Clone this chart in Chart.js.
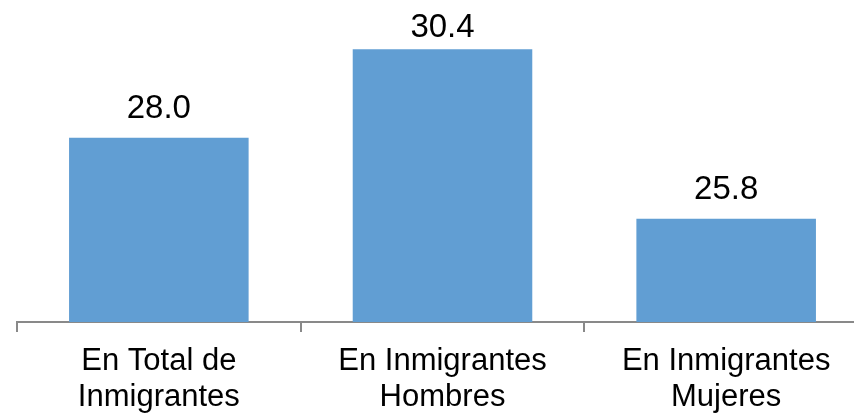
<!DOCTYPE html>
<html>
<head>
<meta charset="utf-8">
<script src="https://cdn.jsdelivr.net/npm/chart.js@4.4.1/dist/chart.umd.min.js"></script>
<style>
  html, body { margin: 0; padding: 0; background: #ffffff; overflow: hidden; width: 854px; height: 415px; }
  #wrap { position: relative; width: 880px; height: 415px; }
</style>
</head>
<body>
<div id="wrap"><canvas id="c"></canvas></div>
<script>
const categories = [
  ['En Total de', 'Inmigrantes'],
  ['En Inmigrantes', 'Hombres'],
  ['En Inmigrantes', 'Mujeres']
];
const values = [28.0, 30.4, 25.8];
const axisMin = 23;
const axisMax = 31;

const valueLabels = {
  id: 'valueLabels',
  afterDatasetsDraw(chart) {
    const ctx = chart.ctx;
    const meta = chart.getDatasetMeta(0);
    ctx.save();
    ctx.font = '33px "Liberation Sans", Arial, sans-serif';
    ctx.fillStyle = '#000000';
    ctx.textAlign = 'center';
    ctx.textBaseline = 'alphabetic';
    meta.data.forEach((bar, i) => {
      const baseline = Math.max(bar.y - 20, chart.chartArea.top + 10);
      ctx.fillText(values[i].toFixed(1), bar.x, baseline);
    });
    ctx.restore();
  }
};

new Chart(document.getElementById('c'), {
  type: 'bar',
  data: {
    labels: categories,
    datasets: [{
      data: values,
      backgroundColor: '#619ED3',
      borderWidth: 0,
      categoryPercentage: 1.0,
      barPercentage: 0.633
    }]
  },
  options: {
    responsive: true,
    maintainAspectRatio: false,
    animation: false,
    events: [],
    layout: { padding: { top: 27, left: 17, right: 12, bottom: 0 } },
    plugins: { legend: { display: false }, tooltip: { enabled: false } },
    scales: {
      y: { display: false, min: axisMin, max: axisMax },
      x: {
        afterFit(scale) { scale.height = 93; },
        border: { display: true, color: '#898989', width: 2 },
        grid: {
          display: true, offset: true, drawOnChartArea: false, drawTicks: true,
          tickLength: 10, color: '#898989', lineWidth: 2
        },
        ticks: {
          color: '#000000',
          padding: 12,
          maxRotation: 0,
          autoSkip: false,
          font: { family: '"Liberation Sans", Arial, sans-serif', size: 31, lineHeight: 1.15 }
        }
      }
    }
  },
  plugins: [valueLabels]
});
</script>
</body>
</html>
